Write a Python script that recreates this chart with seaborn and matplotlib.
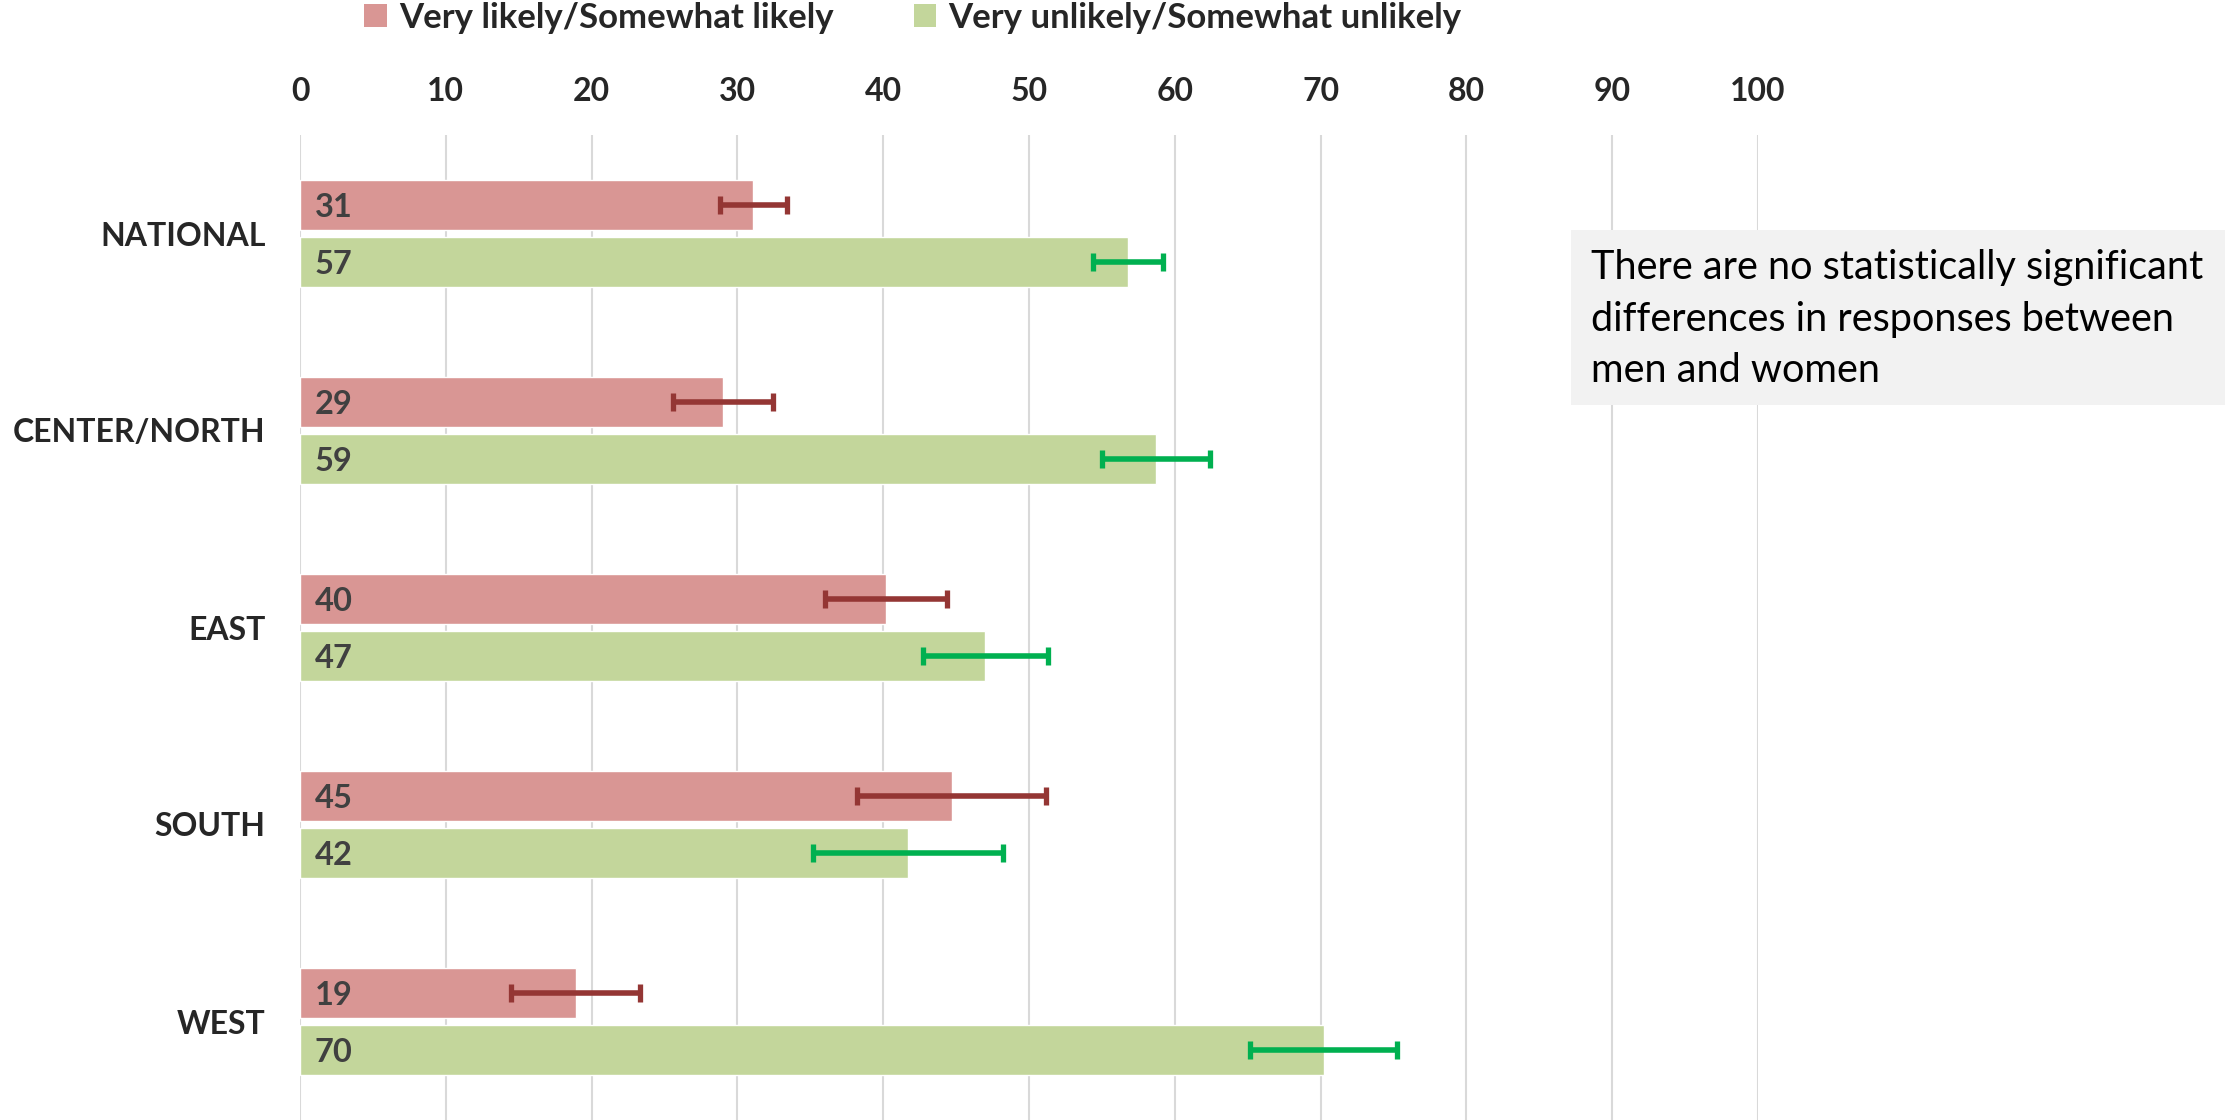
import pandas as pd
import matplotlib.pyplot as plt
import seaborn as sns
from matplotlib.patches import Rectangle, Patch

# values
REGIONS = ["NATIONAL", "CENTER/NORTH", "EAST", "SOUTH", "WEST"]
LIKELY = [31.1, 29.0, 40.2, 44.7, 18.9]
LIKELY_ERR = [2.3, 3.45, 4.2, 6.5, 4.45]
UNLIKELY = [56.8, 58.7, 47.0, 41.7, 70.2]
UNLIKELY_ERR = [2.4, 3.7, 4.3, 6.5, 5.05]
SERIES = ["Very likely/Somewhat likely", "Very unlikely/Somewhat unlikely"]
NOTE = "There are no statistically significant\ndifferences in responses between\nmen and women"

BAR_COLORS = ["#D99694", "#C3D69B"]
ERR_COLORS = ["#943634", "#00B050"]

sns.set_style("white")
plt.rcParams['font.family'] = ['Lato', 'DejaVu Sans']

df = pd.DataFrame({
    "region": REGIONS * 2,
    "response": [SERIES[0]] * len(REGIONS) + [SERIES[1]] * len(REGIONS),
    "value": LIKELY + UNLIKELY,
})

fig = plt.figure(figsize=(22.25, 11.2), dpi=100)
ax = fig.add_axes([300 / 2225, 0.0, 1458 / 2225, 1 - 135 / 1120])

sns.barplot(data=df, y="region", x="value", hue="response", orient="h",
            palette=BAR_COLORS, saturation=1, width=0.58, gap=0.14, errorbar=None,
            legend=False, ax=ax, zorder=2)

# error bars and value labels at the bar positions
for cont, errs, ecol in zip(ax.containers, [LIKELY_ERR, UNLIKELY_ERR], ERR_COLORS):
    ys = [b.get_y() + b.get_height() / 2 for b in cont]
    xs = [b.get_width() for b in cont]
    ax.errorbar(xs, ys, xerr=errs, fmt="none", ecolor=ecol, elinewidth=4,
                capsize=6.5, capthick=3.8, zorder=3)
    for x, y in zip(xs, ys):
        ax.text(1.0, y, f"{round(x)}", va="center_baseline", ha="left", fontsize=23.5,
                fontweight="bold", color="#404040", zorder=4)

ax.set_xlim(0, 100)
ax.set_ylim(4.5, -0.5)
ax.set_xticks(range(0, 101, 10))
ax.xaxis.tick_top()
ax.tick_params(axis="x", length=0, pad=21, labelsize=23)
ax.tick_params(axis="y", length=0, pad=25, labelsize=23)
for lbl in ax.get_xticklabels() + ax.get_yticklabels():
    lbl.set_fontweight("bold")
ax.set_xlabel("")
ax.set_ylabel("")
ax.grid(axis="x", color="#D9D9D9", linewidth=1.5, zorder=0)
ax.set_axisbelow(True)
for s in ax.spines.values():
    s.set_visible(False)

handles = [Patch(facecolor=c, edgecolor="none") for c in BAR_COLORS]
fig.legend(handles, SERIES, loc="center", bbox_to_anchor=(913 / 2225, 1 - 18 / 1120),
           ncol=2, frameon=False, handlelength=0.65, handleheight=0.65,
           handletextpad=0.35, columnspacing=2.3, prop={"weight": "bold", "size": 25})

# note box
fig.patches.append(Rectangle((1571 / 2225, 1 - 405 / 1120), 654 / 2225, 175 / 1120,
                             transform=fig.transFigure, facecolor="#F2F2F2",
                             edgecolor="none", zorder=5))
fig.text(1591 / 2225, 1 - 319 / 1120, NOTE, ha="left", va="center", fontsize=28.5,
         linespacing=1.5, color="black", zorder=6)

fig.savefig("out.png", dpi=100)
